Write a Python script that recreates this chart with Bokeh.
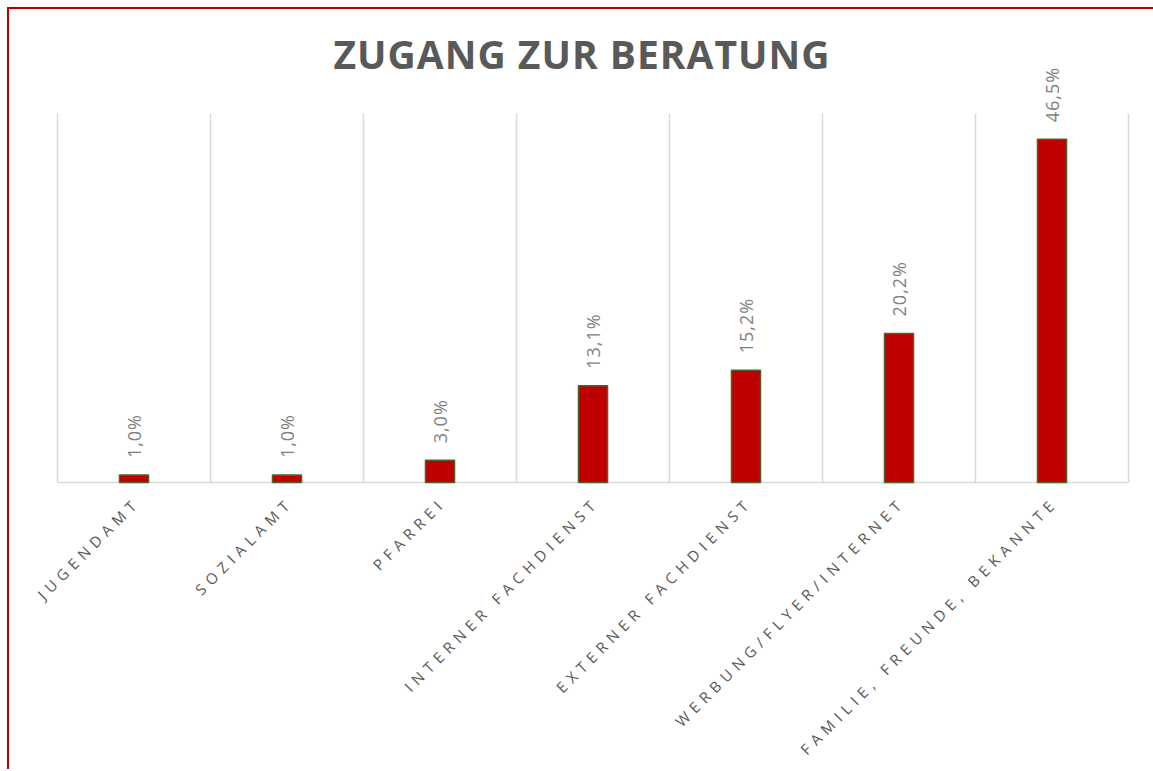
import math
from bokeh.plotting import figure
from bokeh.layouts import column
from bokeh.models import Range1d, ColumnDataSource, LabelSet, Label
from bokeh.core.properties import value
from bokeh.embed import file_html
from bokeh.resources import INLINE

categories = ["JUGENDAMT", "SOZIALAMT", "PFARREI", "INTERNER FACHDIENST",
              "EXTERNER FACHDIENST", "WERBUNG/FLYER/INTERNET",
              "FAMILIE, FREUNDE, BEKANNTE"]
values = [1.0, 1.0, 3.0, 13.1, 15.2, 20.2, 46.5]
value_labels = [f"{v:.1f}".replace(".", ",") + "%" for v in values]
title_text = "ZUGANG ZUR BERATUNG"
Y_MAX = 50  # value-axis maximum (top of the gridlines)

# ---- layout constants (pixels) ----
W = 1144            # content width (both figures use the full width as frame)
LEFT = 48           # left edge of the category area inside the figures
CAT_PX = 153        # width of one category
PLOT_PX = 369       # height of value range 0..Y_MAX
TOP_H = 476         # height of upper figure (baseline 3 px above its bottom)
BOT_H = 284         # height of lower (category label) figure
CAT_SPACING = 5.5   # letter spacing of category labels
TOP_SPACING = 1     # letter spacing of title / value labels
DOWN = 18           # end of category label below top of lower figure
RIGHT = -1          # end of category label right of category centre

n = len(categories)
xs = [i + 0.5 for i in range(n)]
bounds = list(range(n + 1))
ppu = PLOT_PX / Y_MAX
x_range = (-LEFT / CAT_PX, (W - LEFT) / CAT_PX)

src = ColumnDataSource(dict(x=xs, v=values, lab=value_labels))
grid_src = ColumnDataSource(dict(x=bounds, y0=[0] * len(bounds), y1=[Y_MAX] * len(bounds)))

# ---------------- upper figure: title, grid, bars, values ----------------
p = figure(width=W, height=TOP_H,
           x_range=Range1d(*x_range),
           y_range=Range1d(-3 / ppu, (TOP_H - 3) / ppu),
           x_axis_location=None, y_axis_location=None,
           output_backend="svg", toolbar_location=None,
           min_border_left=0, min_border_right=0,
           min_border_top=0, min_border_bottom=0)
p.styles = {"letter-spacing": f"{TOP_SPACING}px"}
p.background_fill_color = "white"
p.border_fill_color = "white"
p.outline_line_color = None
p.grid.visible = False

p.segment(x0="x", y0="y0", x1="x", y1="y1", source=grid_src,
          line_color="#D9D9D9", line_width=1.5)
p.segment(x0=[0], y0=[0], x1=[n], y1=[0], line_color="#D9D9D9", line_width=1.5)

p.vbar(x="x", top="v", bottom=0, width=0.19, source=src,
       fill_color="#C00000", line_color="#4F6228", line_width=1.5)

vlabels = LabelSet(x="x", y="v", text="lab", source=src, angle=math.pi / 2,
                   text_align="left", text_baseline="middle", y_offset=17,
                   text_font=value("Open Sans"), text_font_size=value("18px"),
                   text_color="#7F7F7F")
p.add_layout(vlabels)

title = Label(x=(581 - 57) / CAT_PX, y=(482 - 53) / ppu,
              x_offset=-(len(title_text) - 1) * TOP_SPACING / 2,
              text=title_text, text_align="center", text_baseline="middle",
              text_font="Open Sans", text_font_size="39px", text_font_style="bold",
              text_color="#595959")
p.add_layout(title)

# ---------------- lower figure: rotated category labels ----------------
# right-aligned text is placed by its unspaced width, so shift each label back
# by the extra length that the letter spacing adds along the 45° direction
c = math.sqrt(0.5)
extra = [(len(s) - 1) * CAT_SPACING * c for s in categories]
cat_src = ColumnDataSource(dict(
    x=xs, y=[0] * n, lab=categories,
    dx=[RIGHT - e for e in extra],
    dy=[-(DOWN + e) for e in extra],
))
q = figure(width=W, height=BOT_H,
           x_range=Range1d(*x_range),
           y_range=Range1d(-1, 0),
           x_axis_location=None, y_axis_location=None,
           output_backend="svg", toolbar_location=None,
           min_border_left=0, min_border_right=0, min_border_top=0, min_border_bottom=0)
q.styles = {"letter-spacing": f"{CAT_SPACING}px"}
q.background_fill_color = "white"
q.border_fill_color = "white"
q.outline_line_color = None
q.grid.visible = False

clabels = LabelSet(x="x", y="y", text="lab", source=cat_src, angle=math.pi / 4,
                   text_align="right", text_baseline="middle",
                   x_offset="dx", y_offset="dy",
                   text_font=value("Open Sans"), text_font_size=value("15px"),
                   text_color="#595959")
q.add_layout(clabels)

layout = column(p, q, spacing=0)
layout.styles = {"margin-left": "7px", "margin-top": "7px",
                 "border-left": "2px solid #C00000", "border-top": "2px solid #C00000"}

open("out.html", "w").write(file_html(layout, INLINE))
